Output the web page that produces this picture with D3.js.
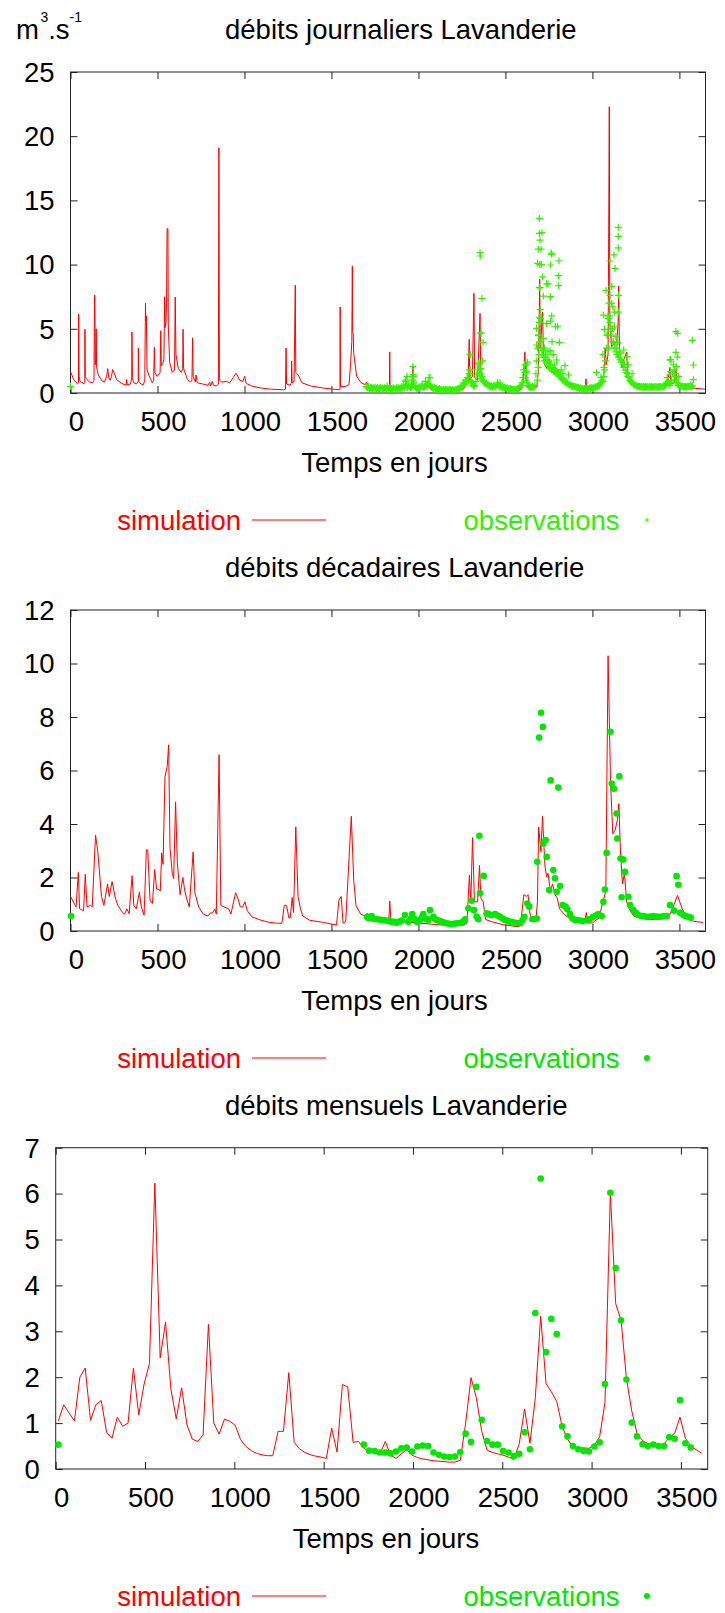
<!DOCTYPE html>
<html><head><meta charset="utf-8">
<script src="https://cdn.jsdelivr.net/npm/d3@7"></script>
<style>
body{margin:0;background:#fff}
svg{display:block}
text{font-family:"Liberation Sans",Arial,sans-serif;font-size:27.5px}
</style></head><body>
<svg id="c" width="725" height="1613"></svg>
<script>
// ---------- common ----------
const xTicks = [0,500,1000,1500,2000,2500,3000,3500];
const xLabel = "Temps en jours";
const titles = ["débits journaliers Lavanderie","débits décadaires Lavanderie","débits mensuels Lavanderie"];
const legendSim = "simulation", legendObs = "observations";
const yTicksDaily = [0,5,10,15,20,25];
const yTicksDec = [0,2,4,6,8,10,12];
const yTicksMon = [0,1,2,3,4,5,6,7];

// ---------- daily simulation (days / values read at visible vertices) ----------
const dailySimDays = [0,20,39,46,47,49,55,78,82,83,85,91,110,127,135,138,140,142,145,148,150,160,180,195,208,214,220,228,236,242,250,265,293,320,323,326,345,352,353,356,362,380,389,390,393,405,419,427,431,433,436,440,450,470,478,482,485,497,505,515,519,522,530,537,541,545,549,552,555,560,562,570,585,598,602,606,620,637,645,647,650,672,690,698,702,705,718,722,728,760,790,800,806,815,822,840,850,853,856,870,895,915,935,951,958,972,990,1001,1010,1040,1090,1150,1224,1236,1239,1242,1262,1270,1271,1274,1285,1292,1295,1309,1330,1380,1455,1548,1549,1550,1552,1580,1601,1610,1617,1620,1622,1625,1628,1645,1670,1694,1702,1710,1750,1800,1833,1835,1837,1880,1920,1928,1930,1933,1960,1969,1972,2000,2045,2050,2055,2100,2150,2200,2260,2285,2292,2295,2310,2319,2323,2340,2354,2358,2380,2420,2480,2540,2590,2600,2612,2615,2620,2624,2640,2680,2690,2697,2700,2706,2711,2714,2718,2725,2740,2755,2770,2790,2805,2820,2850,2890,2930,2960,2963,2966,3000,3040,3060,3070,3073,3080,3090,3097,3100,3110,3125,3140,3148,3151,3155,3170,3180,3197,3202,3220,3250,3300,3380,3430,3446,3450,3470,3480,3485,3510,3560,3647];
const dailySimVals = [1.66,1.0,0.75,0.8,6.15,1.3,0.9,0.72,0.8,4.96,1.3,1.1,0.85,0.8,1.0,7.63,7.6,2.2,2.5,5.0,2.0,1.4,0.95,0.85,1.3,1.9,1.2,1.0,1.3,1.83,1.6,1.05,0.75,0.62,1.05,0.65,0.7,1.2,4.75,1.2,0.8,0.72,0.9,3.5,0.9,0.7,0.65,1.0,7.0,5.6,6.0,1.8,1.4,0.8,1.0,3.55,1.6,1.3,1.4,1.6,4.85,2.1,2.3,2.6,7.5,5.1,5.5,7.0,12.8,12.8,5.3,2.4,1.6,1.8,7.47,3.0,1.9,1.6,1.9,4.96,1.9,1.05,0.85,1.0,4.3,1.3,0.85,1.4,0.8,0.7,0.6,0.85,0.55,0.9,0.6,0.55,0.7,19.1,1.0,0.85,0.9,0.8,1.2,1.55,1.4,1.0,0.9,1.3,0.75,0.55,0.4,0.3,0.25,0.3,3.5,0.7,0.6,0.8,2.5,0.8,0.9,8.4,1.6,1.4,0.8,0.55,0.38,0.25,0.3,6.7,0.5,0.5,0.65,2.3,4.0,9.9,4.8,4.6,3.1,1.3,0.8,0.65,0.85,0.6,0.5,0.45,0.4,3.2,0.5,0.4,0.45,0.5,1.27,0.55,0.5,2.05,0.6,0.4,0.55,0.9,0.5,0.35,0.3,0.25,0.3,1.0,4.18,1.0,1.3,7.76,1.2,1.0,6.2,1.7,0.9,0.55,0.4,0.3,0.25,0.6,3.2,1.3,2.4,0.9,0.5,0.45,1.8,8.85,3.5,4.5,6.2,6.3,2.8,2.2,1.9,2.2,1.6,1.5,1.8,1.0,0.7,0.55,0.45,0.45,1.1,0.45,0.4,0.5,0.8,2.0,3.5,2.2,3.0,22.3,5.5,3.6,3.8,4.0,5.5,8.33,3.3,2.0,2.6,3.2,1.3,0.9,0.6,0.5,0.5,0.55,2.0,0.7,0.8,1.85,1.0,0.6,0.4,0.3];

// ---------- daily observations ----------
const dailyObsBaseStart = 1700, dailyObsBaseStep = 5;
const dailyObsBaseVals = [
0.5,0.45,0.4,0.5,0.35,0.4,0.45,0.3,0.4,0.35,0.45,0.3,0.35,0.4,0.3,0.35,0.45,0.3,0.4,0.35,
0.3,0.4,0.35,0.3,0.55,0.35,0.3,0.4,0.25,0.35,0.3,0.4,0.3,0.35,0.25,0.45,0.3,0.4,0.35,0.3,
0.4,0.5,0.35,0.6,0.45,0.9,0.6,0.4,0.5,0.7,0.5,0.4,0.45,0.55,1.3,0.8,0.5,0.45,0.35,0.4,
0.35,0.45,0.5,0.4,0.6,0.55,0.45,0.5,0.9,0.6,0.5,0.8,1.2,0.7,0.5,0.45,0.4,0.35,0.45,0.3,
0.35,0.3,0.25,0.3,0.35,0.25,0.3,0.2,0.25,0.3,0.2,0.25,0.3,0.2,0.25,0.2,0.3,0.25,0.2,0.25,
0.2,0.25,0.2,0.3,0.25,0.3,0.35,0.3,0.4,0.5,0.45,0.6,0.8,0.7,1.0,0.9,1.2,0.8,1.5,1.8,
1.0,0.8,0.7,0.6,0.5,0.6,0.9,1.4,1.8,2.3,1.6,1.4,1.1,1.3,1.0,0.9,0.8,0.7,0.75,0.65,
0.6,0.55,0.6,0.5,0.55,0.45,0.5,0.6,0.5,0.45,0.6,0.8,0.65,0.55,0.5,0.45,0.5,0.4,0.45,0.4,
0.4,0.35,0.4,0.3,0.35,0.3,0.35,0.3,0.3,0.25,0.3,0.3,0.25,0.3,0.35,0.3,0.4,0.5,0.6,0.8,
1.2,1.8,2.2,1.6,1.0,0.8,0.6,0.5,0.45,0.4,0.45,0.5,0.4,0.45,0.6,1.5,2.5,3.5,4.5,5.5,
4.0,3.5,3.0,3.3,2.8,2.5,3.0,2.3,2.6,2.1,2.4,1.9,2.2,1.8,2.0,1.7,1.9,1.6,1.8,1.5,
1.6,1.4,1.3,1.5,1.2,1.1,1.0,1.1,0.9,0.85,0.8,0.75,0.7,0.65,0.6,0.65,0.55,0.5,0.55,0.5,
0.45,0.5,0.4,0.45,0.4,0.35,0.4,0.35,0.3,0.35,0.3,0.35,0.4,0.3,0.35,0.3,0.35,0.4,0.35,0.4,
0.35,0.4,0.45,0.4,0.5,0.45,0.5,0.6,0.55,0.7,0.8,1.0,0.9,1.3,1.8,2.5,3.5,4.5,6.0,7.0,
6.0,5.0,4.5,5.0,4.0,3.5,3.8,3.2,3.5,3.0,2.8,3.2,2.6,2.4,2.5,2.2,2.0,2.2,1.8,1.6,
1.5,1.3,1.2,1.0,0.9,0.85,0.8,0.7,0.65,0.6,0.6,0.55,0.5,0.55,0.5,0.45,0.5,0.5,0.45,0.5,
0.45,0.5,0.45,0.5,0.45,0.45,0.5,0.45,0.5,0.45,0.45,0.5,0.45,0.5,0.45,0.45,0.5,0.45,0.5,0.45,
0.5,0.45,0.5,0.55,0.6,0.8,1.2,0.9,0.7,0.6,0.8,1.0,1.5,2.2,1.8,1.3,1.0,0.8,0.7,0.6,
0.6,0.55,0.5,0.55,0.5,0.45,0.5,0.5,0.45,0.5,0.55,0.5,0.5,0.6,0.5,0.55];
const dailyObsExtraDays = [0,1930,1934,1968,1969,1970,2066,2469,2296,2297,2298,2300,2350,2354,2355,2358,2359,2360,2362,2365,2368,2371,2612,2616,2622,2622,2627,
2679,2679,2683,2685,2688,2689,2690,2692,2695,2695,2695,2695,2697,2699,2699,2699,2700,2702,2705,2705,2707,2710,2714,2718,2718,2725,2730,2737,2737,2745,2745,2750,2756,2758,2760,2760,2760,2763,2766,2766,2768,2775,2780,2787,2794,2800,2806,2806,2808,2810,2820,2830,2842,2862,
3024,3050,3060,3063,3066,3069,3078,3085,3092,3095,3101,3101,3101,3105,3111,3111,3117,3120,3124,3126,3126,3130,3135,3140,3145,3149,3149,3149,3149,3149,3160,3180,3199,3209,3228,
3446,3449,3450,3475,3480,3480,3484,3488,3490,3495,3574,3580,3580];
const dailyObsExtraVals = [0.5,1.0,1.3,2.07,1.0,1.45,1.2,0.8,2.96,1.79,3.0,1.5,2.18,10.93,10.67,1.9,4.66,4.65,1.5,7.37,2.5,3.95,1.6,1.2,2.18,1.7,2.4,
5.04,3.74,1.0,10.1,2.0,11.2,4.5,3.0,13.6,12.43,8.2,5.9,10.0,11.9,8.2,5.5,6.5,5.8,11.2,4.0,10.0,12.49,9.05,7.55,4.26,3.5,2.8,8.5,5.4,8.5,3.2,2.5,3.3,7.5,9.97,7.5,5.6,10.9,10.8,6.0,4.0,3.0,2.2,5.2,2.57,5.2,9.14,8.36,10.3,3.95,1.8,1.5,2.13,1.4,
1.58,1.2,3.0,6.07,2.0,4.96,8.0,4.5,5.8,3.5,10.28,7.6,5.5,4.8,8.3,6.98,6.7,3.95,10.75,6.3,5.2,9.7,4.4,3.0,3.95,12.9,12.2,11.3,7.6,6.3,3.1,3.35,2.83,2.2,1.5,
2.57,2.6,1.66,1.5,4.78,3.17,2.05,2.8,4.65,1.3,4.1,2.18,1.04];

// ---------- decadal simulation ----------
const decSimDays = [0,32,45,52,75,85,95,115,125,144,157,178,192,213,223,239,258,272,298,311,324,337,354,364,378,396,407,423,436,444,457,471,484,495,508,516,524,532,543,556,564,572,585,593,604,614,630,646,657,670,683,705,715,737,763,790,803,816,830,838,854,864,882,909,922,949,962,976,989,1003,1016,1043,1082,1136,1189,1215,1229,1242,1255,1263,1274,1282,1295,1308,1322,1335,1375,1455,1508,1529,1543,1556,1567,1582,1614,1628,1641,1668,1694,1707,1721,1780,1830,1835,1842,1900,1950,2000,2050,2100,2150,2200,2250,2279,2293,2301,2311,2322,2340,2351,2359,2372,2386,2420,2490,2572,2586,2606,2620,2630,2638,2651,2675,2684,2691,2704,2713,2727,2737,2745,2758,2771,2785,2798,2811,2838,2870,2920,2955,2965,2975,3000,3040,3050,3077,3090,3104,3117,3130,3144,3152,3162,3173,3184,3197,3211,3237,3317,3400,3424,3444,3464,3489,3516,3543,3583,3636];
const decSimVals = [1.29,0.9,2.19,0.83,0.76,2.12,0.9,0.96,0.9,3.59,2.96,1.29,0.96,1.76,1.29,1.85,1.23,0.96,0.7,0.63,0.83,0.65,2.07,0.96,0.83,1.45,0.9,0.59,3.03,3.03,1.16,1.03,2.29,1.56,1.56,1.49,2.92,2.49,5.76,6.16,6.96,3.09,2.16,1.96,4.83,2.56,1.36,2.0,1.49,1.16,0.9,2.96,1.43,0.9,0.63,0.56,0.67,0.67,0.83,0.63,6.59,0.96,0.9,0.83,0.63,1.43,1.23,0.9,0.9,1.09,0.76,0.53,0.43,0.33,0.29,0.29,0.96,0.96,0.49,0.49,1.25,0.69,3.89,1.29,0.83,0.56,0.4,0.32,0.25,0.23,1.16,1.29,0.29,0.36,4.29,1.89,0.96,0.63,0.56,0.67,0.56,0.45,0.4,1.12,0.38,0.36,0.33,0.3,0.27,0.24,0.22,0.2,0.2,0.29,2.09,1.09,3.49,1.09,1.09,2.45,1.23,1.09,0.43,0.35,0.23,0.16,0.2,1.36,1.29,1.36,0.76,0.36,0.4,1.09,3.89,2.96,4.29,2.43,2.03,2.16,1.49,1.76,1.36,1.23,0.83,0.63,0.45,0.35,0.3,0.69,0.3,0.3,0.5,0.83,1.49,10.29,5.63,3.63,3.76,4.16,4.76,2.83,1.76,2.16,1.09,0.83,0.56,0.43,0.45,0.49,0.6,0.9,1.33,0.83,0.49,0.36,0.32];

// ---------- decadal observations ----------
const decObsDays = [3,1705,1715,1731,1745,1760,1775,1789,1803,1817,1831,1846,1860,1875,1890,1904,1923,1942,1955,1965,1978,1990,2009,2020,2028,2045,2057,2066,2086,2095,2105,2120,2133,2148,2162,2176,2191,2205,2220,2235,2248,2258,2268,2287,2306,2319,2335,2344,2350,2354,2375,2392,2405,2421,2440,2455,2469,2484,2498,2512,2526,2540,2555,2570,2584,2598,2609,2626,2637,2655,2668,2680,2683,2694,2705,2715,2718,2731,2737,2752,2760,2775,2785,2795,2804,2814,2829,2846,2856,2871,2885,2900,2915,2929,2945,2967,2985,3005,3020,3034,3053,3063,3072,3082,3104,3111,3124,3139,3143,3155,3162,3168,3178,3187,3207,3216,3235,3250,3264,3280,3296,3312,3330,3350,3370,3389,3408,3427,3446,3469,3484,3494,3503,3523,3537,3551,3565];
const decObsVals = [0.56,0.52,0.48,0.56,0.45,0.44,0.43,0.41,0.40,0.39,0.37,0.35,0.34,0.31,0.35,0.39,0.60,0.35,0.45,0.63,0.45,0.35,0.41,0.5,0.63,0.45,0.41,0.78,0.53,0.45,0.41,0.38,0.35,0.32,0.29,0.27,0.26,0.27,0.29,0.3,0.31,0.36,0.44,0.85,1.13,0.78,0.53,0.44,3.56,1.41,2.06,0.66,0.62,0.60,0.63,0.58,0.53,0.47,0.41,0.38,0.35,0.33,0.31,0.3,0.29,0.4,0.53,1.03,0.91,0.44,0.45,0.47,2.59,7.23,8.16,7.63,3.27,3.40,2.77,1.53,5.63,2.28,1.97,1.47,5.36,1.68,0.97,0.91,0.81,0.63,0.47,0.41,0.4,0.39,0.37,0.39,0.45,0.53,0.58,0.63,0.56,1.09,1.55,2.92,7.45,5.51,5.32,4.39,3.46,5.78,2.71,1.26,2.67,2.21,1.28,0.97,0.78,0.68,0.60,0.56,0.55,0.53,0.54,0.56,0.54,0.53,0.55,0.56,0.97,0.76,2.05,1.73,0.68,0.60,0.55,0.53,0.5];

// ---------- monthly (index = month number, 30-day steps) ----------
const monthSimVals = [1.05,1.40,1.22,1.05,2.0,2.2,1.06,1.40,1.49,0.80,0.67,1.13,0.93,1.0,2.2,1.18,1.85,2.3,6.23,2.42,3.2,1.74,1.09,1.77,0.96,0.65,0.60,0.74,3.15,1.0,
0.76,1.09,1.04,0.95,0.64,0.49,0.40,0.34,0.31,0.29,0.29,0.82,0.82,2.1,0.58,0.44,0.36,0.31,0.28,0.26,0.23,0.89,0.37,1.84,1.79,0.58,0.60,0.45,0.38,0.35,
0.32,0.60,0.30,0.23,0.33,0.42,0.30,0.25,0.22,0.20,0.18,0.17,0.16,0.15,0.15,0.19,1.0,1.99,1.55,0.82,0.41,0.36,0.33,0.30,0.26,0.21,0.55,1.31,0.56,1.55,
3.33,1.86,1.68,1.47,0.93,0.65,0.48,0.45,0.46,0.45,0.52,0.70,1.45,6.02,3.60,3.24,1.97,1.26,0.76,0.62,0.55,0.50,0.50,0.55,0.68,0.78,1.13,0.67,0.50,0.42,0.35];
const monthObsVals = [0.53,null,null,null,null,null,null,null,null,null,null,null,null,null,null,null,null,null,null,null,null,null,null,null,null,null,null,null,null,null,
null,null,null,null,null,null,null,null,null,null,null,null,null,null,null,null,null,null,null,null,null,null,null,null,null,null,null,0.53,0.40,0.39,
0.36,0.36,0.34,0.38,0.45,0.47,0.38,0.49,0.51,0.50,0.36,0.31,0.27,0.26,0.27,0.37,0.77,0.59,1.79,1.07,0.61,0.53,0.53,0.39,0.36,0.28,0.33,0.80,0.43,3.40,
6.33,2.55,3.27,2.94,0.93,0.71,0.50,0.43,0.39,0.38,0.49,0.58,1.85,6.02,4.38,3.24,1.95,1.01,0.71,0.54,0.50,0.53,0.50,0.50,0.69,0.66,1.50,0.56,0.47,null,null];

// ---------- drawing ----------
const svg = d3.select("#c");
const RED = "#ff0000", GREEN1 = "#33f200", GREEN2 = "#00e800";

function panel(o){
  const x = d3.scaleLinear().domain([0,3650]).range([o.left,o.right]);
  const y = d3.scaleLinear().domain([0,o.ymax]).range([o.bottom,o.top]);
  const g = svg.append("g");
  g.append("text").attr("x",225).attr("y",o.top-33).text(o.title).attr("fill","#000");
  const ax = (gen,tr)=>{ const a=g.append("g").attr("transform",tr).call(gen); a.select(".domain").remove(); a.selectAll("line").attr("stroke","#222"); return a; };
  const bx = ax(d3.axisBottom(x).tickValues(xTicks).tickSize(-7).tickFormat(d3.format("d")),`translate(0,${o.bottom})`);
  bx.selectAll("text").attr("y",37.5).attr("dy",0).attr("x",5.5).attr("font-size",27.5).attr("font-family","Liberation Sans, Arial, sans-serif").attr("fill","#000");
  ax(d3.axisTop(x).tickValues(xTicks).tickSize(-7).tickFormat(""),`translate(0,${o.top})`);
  const ly = ax(d3.axisLeft(y).tickValues(o.yticks).tickSize(-7).tickFormat(d3.format("d")),`translate(${o.left},0)`);
  ly.selectAll("text").attr("x",-16).attr("dy","0.34em").attr("font-size",27.5).attr("font-family","Liberation Sans, Arial, sans-serif").attr("fill","#000");
  ax(d3.axisRight(y).tickValues(o.yticks).tickSize(-7).tickFormat(""),`translate(${o.right},0)`);
  g.append("rect").attr("x",o.left).attr("y",o.top).attr("width",o.right-o.left).attr("height",o.bottom-o.top)
    .attr("fill","none").attr("stroke","#222").attr("stroke-width",1);
  g.append("text").attr("x",o.xlabX).attr("y",o.bottom+79).attr("text-anchor","middle").text(xLabel);
  const line = d3.line().x(d=>x(d[0])).y(d=>y(d[1]));
  g.append("path").datum(o.sim).attr("d",line).attr("fill","none").attr("stroke",RED).attr("stroke-width",1);
  const obsG = g.append("g");
  if(o.marker==="cross"){
    obsG.selectAll("path").data(o.obs).join("path")
      .attr("d",d=>`M${x(d[0])-3.5},${y(d[1])}h7M${x(d[0])},${y(d[1])-3.5}v7`)
      .attr("stroke",o.green).attr("stroke-width",1.2).attr("fill","none");
  } else {
    obsG.selectAll("circle").data(o.obs).join("circle")
      .attr("cx",d=>x(d[0])).attr("cy",d=>y(d[1])).attr("r",3.3).attr("fill",o.green);
  }
  const ly0 = o.bottom+127;
  g.append("text").attr("x",241).attr("y",o.bottom+136.5).attr("text-anchor","end").attr("fill",RED).text(legendSim);
  g.append("line").attr("x1",252).attr("x2",326).attr("y1",ly0).attr("y2",ly0).attr("stroke",RED).attr("stroke-width",1);
  g.append("text").attr("x",619.5).attr("y",o.bottom+136.5).attr("text-anchor","end").attr("fill",o.green).text(legendObs);
  if(o.marker==="cross"){
    g.append("path").attr("d",`M${644.5},${ly0}h5M${647},${ly0-2.5}v5`).attr("stroke",o.green).attr("stroke-width",1);
  } else {
    g.append("circle").attr("cx",647).attr("cy",ly0).attr("r",3).attr("fill",o.green);
  }
}

// unit label (m^3.s^-1) as one text with shifted tspans
const unit = svg.append("text").attr("x",16).attr("y",39);
unit.append("tspan").text("m");
unit.append("tspan").attr("dx",1.5).attr("dy",-17).attr("font-size",14).text("3");
unit.append("tspan").attr("dy",17).text(".s");
unit.append("tspan").attr("dy",-17).attr("font-size",14).text("-1");

// chart 1
const sim1 = dailySimDays.map((d,i)=>[d,dailySimVals[i]]);
const obs1 = dailyObsBaseVals.map((v,i)=>[dailyObsBaseStart+i*dailyObsBaseStep,v])
  .concat(dailyObsExtraDays.map((d,i)=>[d,dailyObsExtraVals[i]]));
panel({top:72,bottom:393,left:70.5,right:705.5,ymax:25,yticks:yTicksDaily,title:titles[0],xlabX:394.5,
  sim:sim1,obs:obs1,marker:"cross",green:GREEN1});

// chart 2
const sim2 = decSimDays.map((d,i)=>[d,decSimVals[i]]);
const obs2 = decObsDays.map((d,i)=>[d,decObsVals[i]]);
panel({top:610,bottom:931,left:70.5,right:705.5,ymax:12,yticks:yTicksDec,title:titles[1],xlabX:394.5,
  sim:sim2,obs:obs2,marker:"dot",green:GREEN2});

// chart 3
const monthDay = i => 15 + 30*i;
const sim3 = monthSimVals.map((v,i)=>[monthDay(i),v]);
const obs3 = monthObsVals.map((v,i)=>[monthDay(i),v]).filter(d=>d[1]!==null);
panel({top:1147.7,bottom:1469,left:55.7,right:707.7,ymax:7,yticks:yTicksMon,title:titles[2],xlabX:386,
  sim:sim3,obs:obs3,marker:"dot",green:GREEN2});
</script>
</body></html>
